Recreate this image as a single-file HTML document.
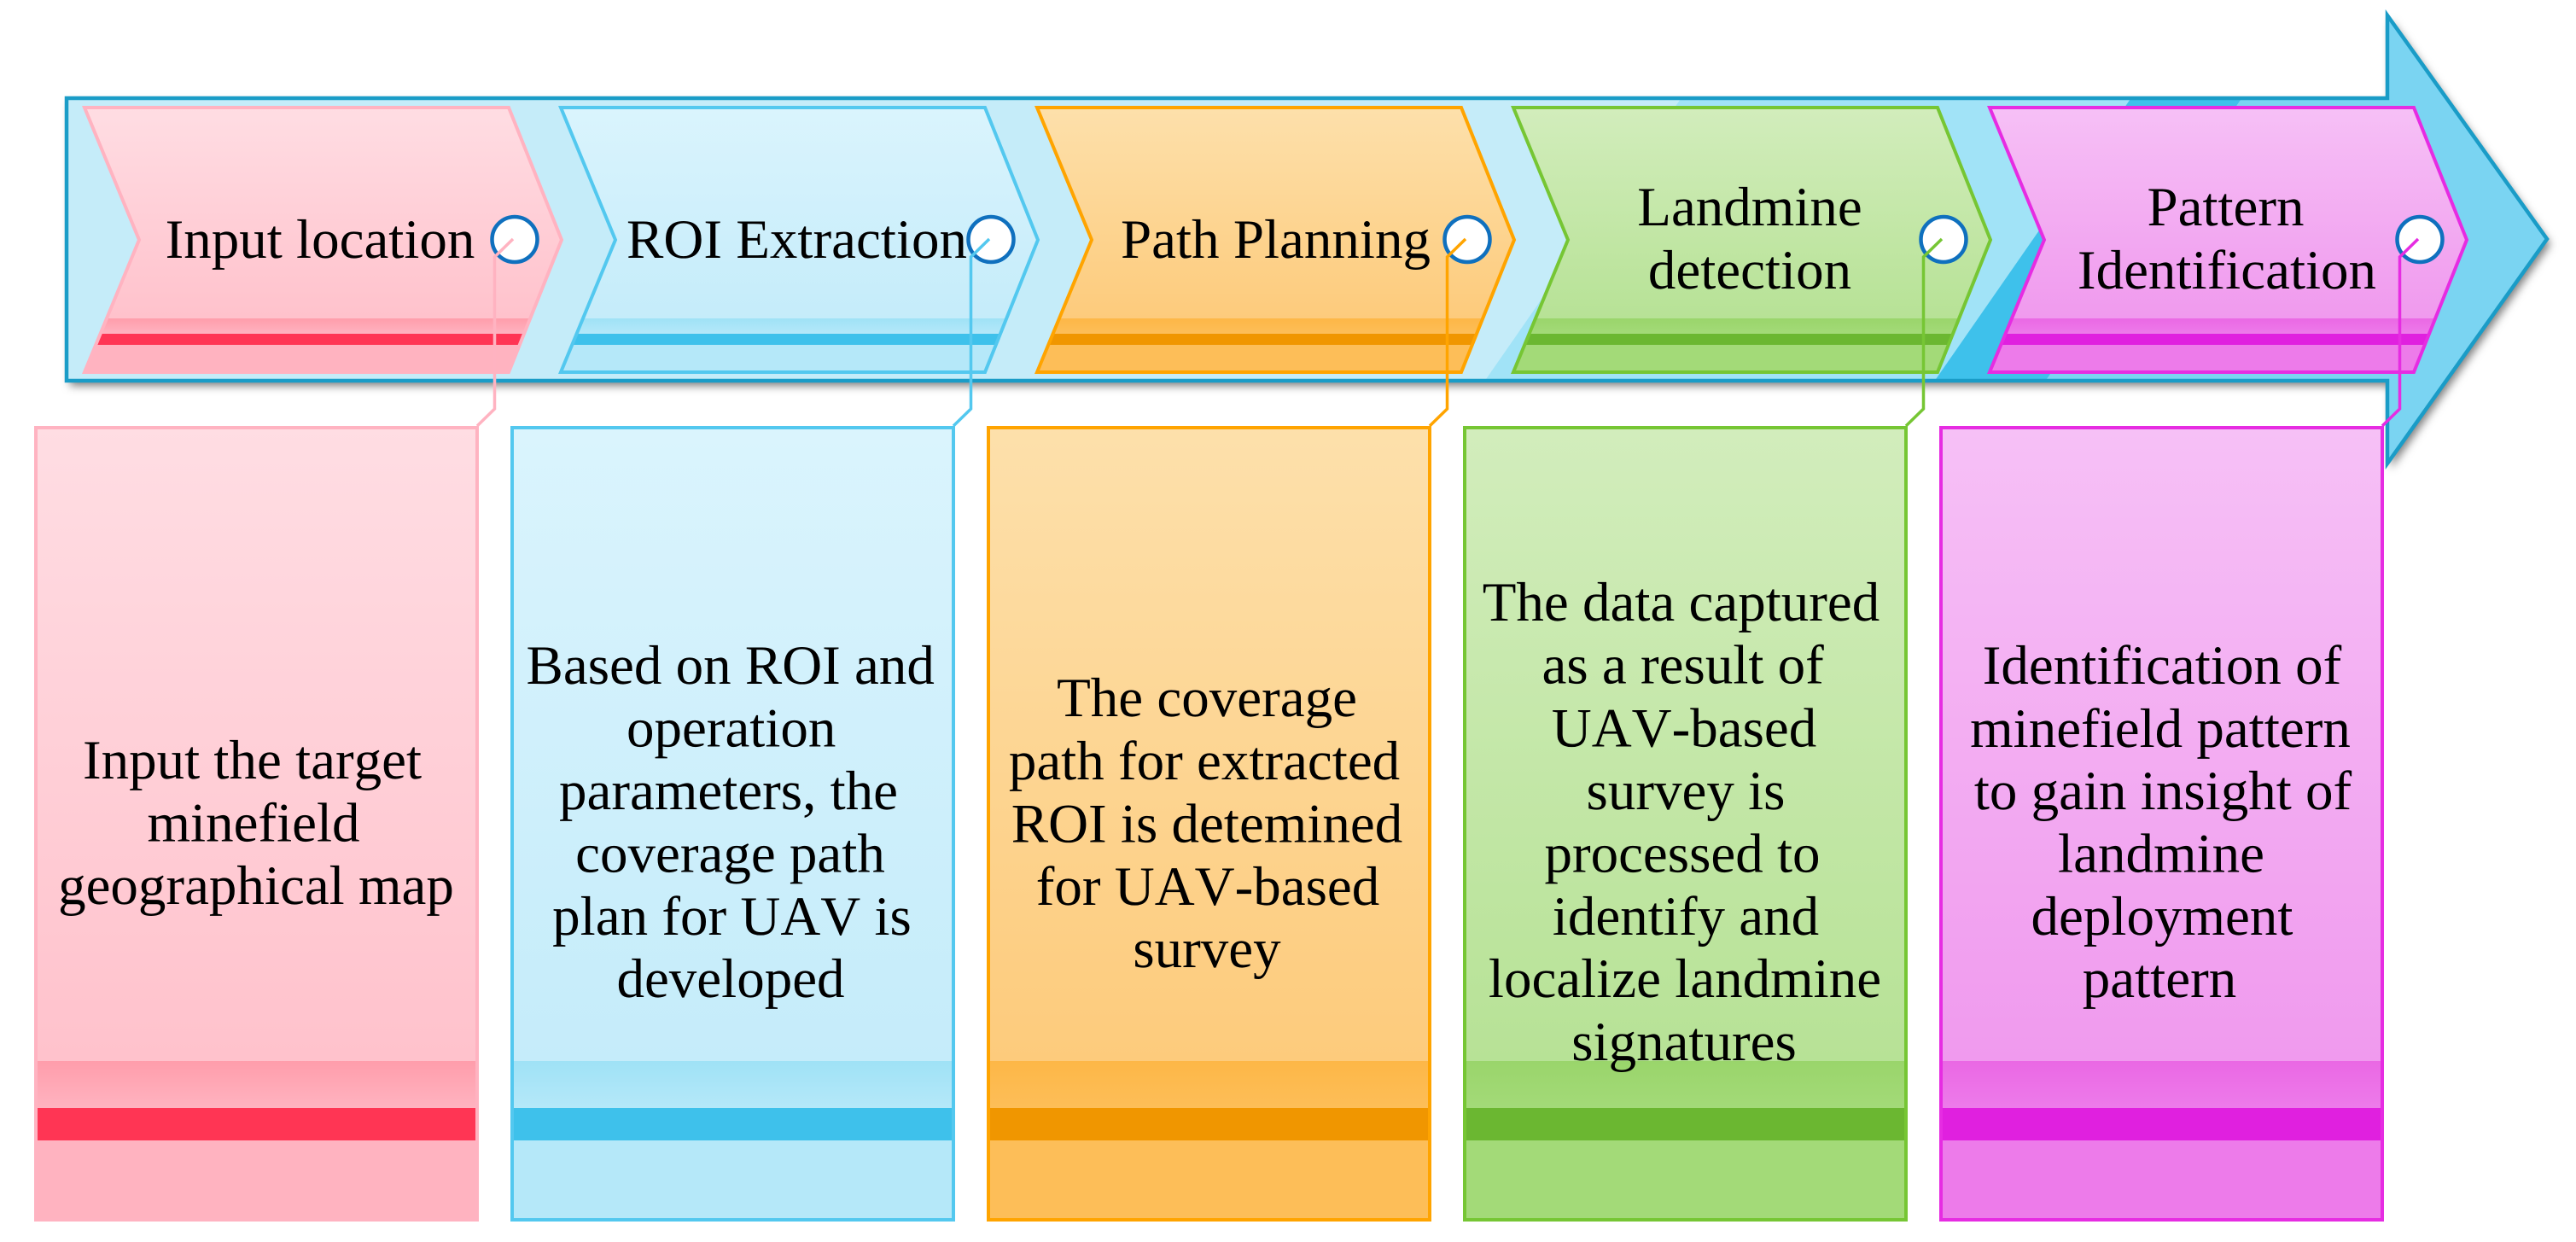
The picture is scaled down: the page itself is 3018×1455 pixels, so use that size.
<!DOCTYPE html>
<html><head><meta charset="utf-8"><style>
html,body{margin:0;padding:0;background:#fff;width:3018px;height:1455px;overflow:hidden}
svg{display:block}
text{font-family:"Liberation Serif",serif;font-size:65px;fill:#000;text-anchor:middle;font-kerning:none;font-variant-ligatures:none;text-rendering:geometricPrecision}
</style></head><body>
<svg width="3018" height="1455" viewBox="0 0 3018 1455" xmlns="http://www.w3.org/2000/svg">
<defs>
<filter id="sh" x="-5%" y="-20%" width="110%" height="140%"><feDropShadow dx="4" dy="6" stdDeviation="5" flood-color="#000" flood-opacity="0.5"/></filter>
<clipPath id="arrow"><path d="M78 115H2797V18L2984 280L2797 543V446H78Z"/></clipPath>
<clipPath id="chev"><path d="M99 126H596L658 281L596 436H99L163 281Z"/></clipPath>
<linearGradient id="p1" x1="0" y1="0" x2="0" y2="1"><stop offset="0" stop-color="#FFDDE3"/><stop offset="1" stop-color="#FFC2CC"/></linearGradient>
<linearGradient id="p2" x1="0" y1="0" x2="0" y2="1"><stop offset="0" stop-color="#FF9DAB"/><stop offset="1" stop-color="#FFB3C0"/></linearGradient>
<linearGradient id="b1" x1="0" y1="0" x2="0" y2="1"><stop offset="0" stop-color="#DAF4FD"/><stop offset="1" stop-color="#C5ECFA"/></linearGradient>
<linearGradient id="b2" x1="0" y1="0" x2="0" y2="1"><stop offset="0" stop-color="#9FE2F6"/><stop offset="1" stop-color="#B5E8F9"/></linearGradient>
<linearGradient id="o1" x1="0" y1="0" x2="0" y2="1"><stop offset="0" stop-color="#FDE0AB"/><stop offset="1" stop-color="#FDCB7C"/></linearGradient>
<linearGradient id="o2" x1="0" y1="0" x2="0" y2="1"><stop offset="0" stop-color="#FDB747"/><stop offset="1" stop-color="#FDBE58"/></linearGradient>
<linearGradient id="g1" x1="0" y1="0" x2="0" y2="1"><stop offset="0" stop-color="#D2EDBC"/><stop offset="1" stop-color="#B7E296"/></linearGradient>
<linearGradient id="g2" x1="0" y1="0" x2="0" y2="1"><stop offset="0" stop-color="#9AD56B"/><stop offset="1" stop-color="#A3DA78"/></linearGradient>
<linearGradient id="m1" x1="0" y1="0" x2="0" y2="1"><stop offset="0" stop-color="#F6C0F6"/><stop offset="1" stop-color="#F09AEE"/></linearGradient>
<linearGradient id="m2" x1="0" y1="0" x2="0" y2="1"><stop offset="0" stop-color="#EA68E4"/><stop offset="1" stop-color="#ED7BEA"/></linearGradient>
</defs>

<!-- main arrow -->
<path d="M78 115H2797V18L2984 280L2797 543V446H78Z" fill="#C5ECF9" filter="url(#sh)"/>
<g clip-path="url(#arrow)">
<path d="M70 100H1980L1730 460H70Z" fill="#C5ECF9"/>
<path d="M1980 100H2507L2257 460H1730Z" fill="#A1E3F7"/>
<path d="M2507 100H2637L2387 460H2257Z" fill="#3EC1EB"/>
<path d="M2637 100H3000V460H2387Z" fill="#7AD4F2"/>
<rect x="2700" y="0" width="318" height="600" fill="#7AD4F2"/>
</g>
<path d="M78 115H2797V18L2984 280L2797 543V446H78Z" fill="none" stroke="#1A9CC7" stroke-width="4.5"/>

<!-- chevrons -->
<g>
<g clip-path="url(#chev)"><rect x="90" y="126" width="580" height="247" fill="url(#p1)"/><rect x="90" y="373" width="580" height="18" fill="url(#p2)"/><rect x="90" y="391" width="580" height="13" fill="#FF3554"/><rect x="90" y="404" width="580" height="32" fill="#FFB3C0"/></g>
<path d="M99 126H596L658 281L596 436H99L163 281Z" fill="none" stroke="#FFB3C1" stroke-width="4"/>
</g>
<g transform="translate(558 0)">
<g clip-path="url(#chev)"><rect x="90" y="126" width="580" height="247" fill="url(#b1)"/><rect x="90" y="373" width="580" height="18" fill="url(#b2)"/><rect x="90" y="391" width="580" height="13" fill="#3EC1EB"/><rect x="90" y="404" width="580" height="32" fill="#B5E8F9"/></g>
<path d="M99 126H596L658 281L596 436H99L163 281Z" fill="none" stroke="#53C8EF" stroke-width="4"/>
</g>
<g transform="translate(1116 0)">
<g clip-path="url(#chev)"><rect x="90" y="126" width="580" height="247" fill="url(#o1)"/><rect x="90" y="373" width="580" height="18" fill="url(#o2)"/><rect x="90" y="391" width="580" height="13" fill="#F09600"/><rect x="90" y="404" width="580" height="32" fill="#FDBE58"/></g>
<path d="M99 126H596L658 281L596 436H99L163 281Z" fill="none" stroke="#FFA400" stroke-width="4"/>
</g>
<g transform="translate(1674 0)">
<g clip-path="url(#chev)"><rect x="90" y="126" width="580" height="247" fill="url(#g1)"/><rect x="90" y="373" width="580" height="18" fill="url(#g2)"/><rect x="90" y="391" width="580" height="13" fill="#6BB731"/><rect x="90" y="404" width="580" height="32" fill="#A3DA78"/></g>
<path d="M99 126H596L658 281L596 436H99L163 281Z" fill="none" stroke="#76C634" stroke-width="4"/>
</g>
<g transform="translate(2232 0)">
<g clip-path="url(#chev)"><rect x="90" y="126" width="580" height="247" fill="url(#m1)"/><rect x="90" y="373" width="580" height="18" fill="url(#m2)"/><rect x="90" y="391" width="580" height="13" fill="#E020DF"/><rect x="90" y="404" width="580" height="32" fill="#ED7BEA"/></g>
<path d="M99 126H596L658 281L596 436H99L163 281Z" fill="none" stroke="#E62CE2" stroke-width="4"/>
</g>

<!-- boxes -->
<g>
<rect x="42" y="501" width="517" height="928" fill="#FFB3C0"/>
<rect x="42" y="501" width="517" height="742" fill="url(#p1)"/><rect x="42" y="1243" width="517" height="55" fill="url(#p2)"/><rect x="42" y="1298" width="517" height="38" fill="#FF3554"/>
<rect x="42" y="501" width="517" height="928" fill="none" stroke="#FFB3C1" stroke-width="4"/>
</g>
<g transform="translate(558 0)">
<rect x="42" y="501" width="517" height="928" fill="#B5E8F9"/>
<rect x="42" y="501" width="517" height="742" fill="url(#b1)"/><rect x="42" y="1243" width="517" height="55" fill="url(#b2)"/><rect x="42" y="1298" width="517" height="38" fill="#3EC1EB"/>
<rect x="42" y="501" width="517" height="928" fill="none" stroke="#53C8EF" stroke-width="4"/>
</g>
<g transform="translate(1116 0)">
<rect x="42" y="501" width="517" height="928" fill="#FDBE58"/>
<rect x="42" y="501" width="517" height="742" fill="url(#o1)"/><rect x="42" y="1243" width="517" height="55" fill="url(#o2)"/><rect x="42" y="1298" width="517" height="38" fill="#F09600"/>
<rect x="42" y="501" width="517" height="928" fill="none" stroke="#FFA400" stroke-width="4"/>
</g>
<g transform="translate(1674 0)">
<rect x="42" y="501" width="517" height="928" fill="#A3DA78"/>
<rect x="42" y="501" width="517" height="742" fill="url(#g1)"/><rect x="42" y="1243" width="517" height="55" fill="url(#g2)"/><rect x="42" y="1298" width="517" height="38" fill="#6BB731"/>
<rect x="42" y="501" width="517" height="928" fill="none" stroke="#76C634" stroke-width="4"/>
</g>
<g transform="translate(2232 0)">
<rect x="42" y="501" width="517" height="928" fill="#ED7BEA"/>
<rect x="42" y="501" width="517" height="742" fill="url(#m1)"/><rect x="42" y="1243" width="517" height="55" fill="url(#m2)"/><rect x="42" y="1298" width="517" height="38" fill="#E020DF"/>
<rect x="42" y="501" width="517" height="928" fill="none" stroke="#E62CE2" stroke-width="4"/>
</g>

<!-- chevron text -->
<text x="375" y="302">Input location</text>
<text x="933.5" y="302">ROI Extraction</text>
<text x="1494.5" y="302">Path Planning</text>
<text x="2050" y="264">Landmine</text>
<text x="2050" y="338">detection</text>
<text x="2607.5" y="264">Pattern</text>
<text x="2609" y="338">Identification</text>

<!-- box text -->
<text x="295.5" y="912">Input the target</text>
<text x="297" y="985.5">minefield</text>
<text x="300" y="1059">geographical map</text>

<text x="855.7" y="801">Based on ROI and</text>
<text x="856.7" y="874.5">operation</text>
<text x="853.5" y="948">parameters, the</text>
<text x="855.5" y="1021.5">coverage path</text>
<text x="857.5" y="1095">plan for UAV is</text>
<text x="856" y="1168">developed</text>

<text x="1414" y="839">The coverage</text>
<text x="1411" y="913">path for extracted</text>
<text x="1414" y="986.5">ROI is detemined</text>
<text x="1415" y="1060">for UAV-based</text>
<text x="1414" y="1133">survey</text>

<text x="1969.5" y="727">The data captured</text>
<text x="1971.7" y="800.5">as a result of</text>
<text x="1973" y="874.5">UAV-based</text>
<text x="1975" y="948">survey is</text>
<text x="1971" y="1021.5">processed to</text>
<text x="1975" y="1095">identify and</text>
<text x="1974" y="1168">localize landmine</text>
<text x="1973" y="1242">signatures</text>

<text x="2533" y="801">Identification of</text>
<text x="2531" y="875">minefield pattern</text>
<text x="2534" y="948">to gain insight of</text>
<text x="2532" y="1021.5">landmine</text>
<text x="2533" y="1095">deployment</text>
<text x="2530" y="1168">pattern</text>

<!-- circles and leaders -->
<g fill="#fff" stroke="#0F70BE" stroke-width="4.5">
<circle cx="603" cy="280.5" r="26.5"/>
<circle cx="1161" cy="280.5" r="26.5"/>
<circle cx="1719" cy="280.5" r="26.5"/>
<circle cx="2277" cy="280.5" r="26.5"/>
<circle cx="2835" cy="280.5" r="26.5"/>
</g>
<g fill="none" stroke-width="3.5">
<path d="M601 280L579.5 301V479L559 499" stroke="#FFB3C1"/>
<path d="M1159 280L1137.5 301V479L1117 499" stroke="#53C8EF"/>
<path d="M1717 280L1695.5 301V479L1675 499" stroke="#FFA400"/>
<path d="M2275 280L2253.5 301V479L2233 499" stroke="#76C634"/>
<path d="M2833 280L2811.5 301V479L2791 499" stroke="#E62CE2"/>
</g>
</svg>
</body></html>
